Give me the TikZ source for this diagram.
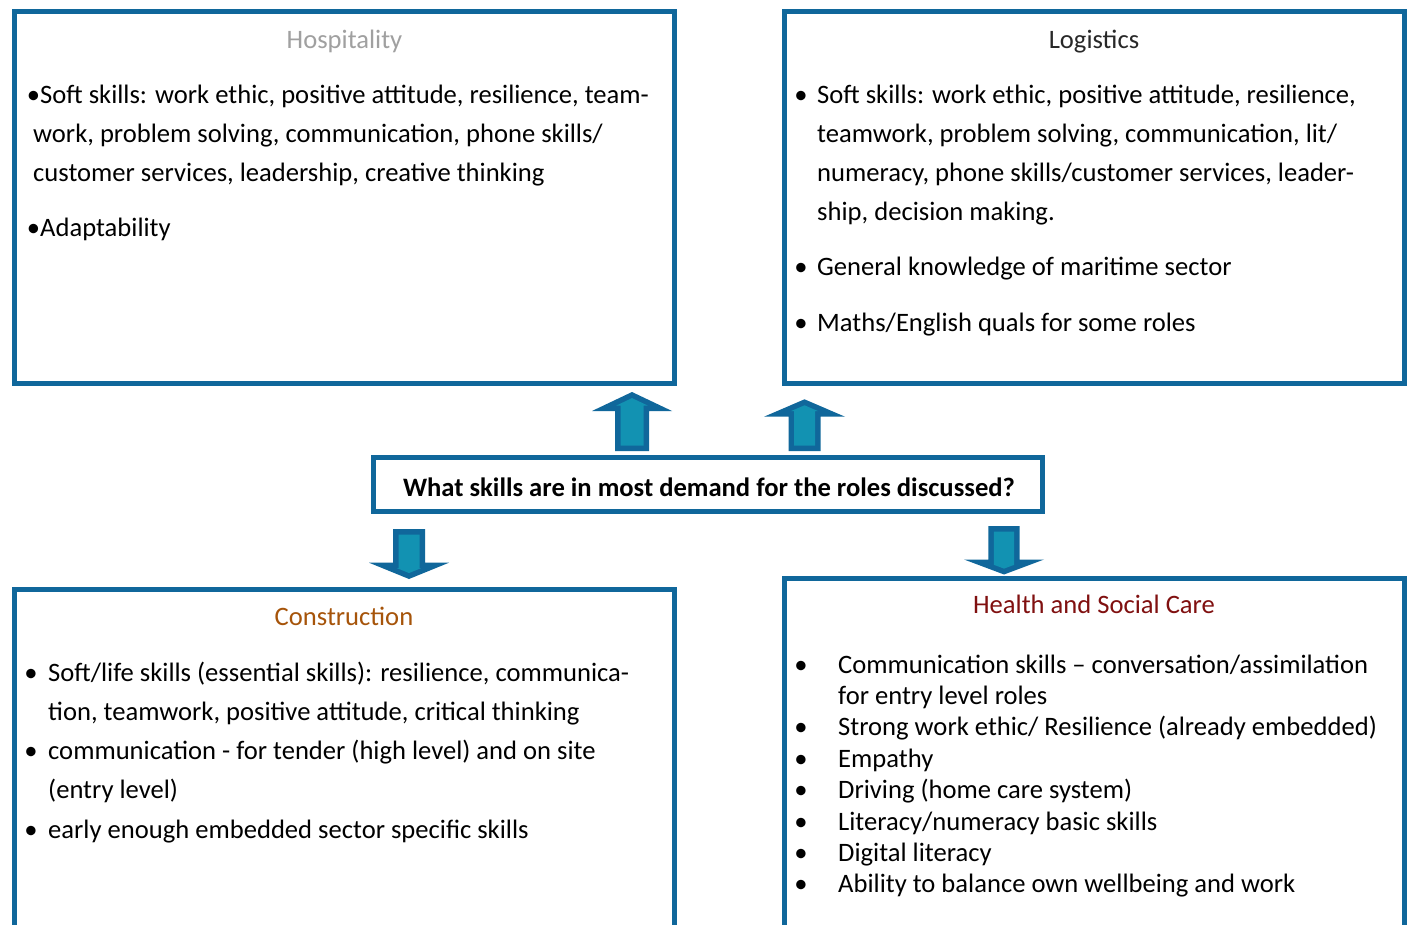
\documentclass[tikz,border=0pt]{standalone}
\usepackage{fontspec}
\setmainfont{Carlito}
\definecolor{boxblue}{RGB}{16,103,155}
\definecolor{arrowfill}{RGB}{18,146,178}
\definecolor{hospgray}{RGB}{160,160,160}
\definecolor{logititle}{RGB}{40,40,40}
\definecolor{constrcol}{RGB}{166,84,10}
\definecolor{healthcol}{RGB}{128,16,16}
\newcommand\bodyfont{\fontsize{26.6}{31}\selectfont}
\tikzset{
  panel/.style={draw=boxblue, line width=5pt, fill=white, inner sep=0pt, outer sep=0pt, anchor=north west},
  ln/.style={anchor=base west, inner sep=0pt, font=\bodyfont},
  bul/.style={anchor=base, inner sep=0pt, font=\bodyfont},
  ttl/.style={anchor=base, inner sep=0pt, font=\bodyfont},
  pics/barrow/.style args={#1/#2/#3/#4}{code={
    \pgfmathsetmacro\arT{5.5}
    \pgfmathsetmacro\arV{\arT*sqrt(#1*#1+#3*#3)/#3}
    \pgfmathsetmacro\arWy{#1-\arT}
    \pgfmathsetmacro\arD{(#1-\arT-\arV)*#3/#1}
    \pgfmathsetmacro\arS{#4-\arT}
    \pgfmathsetmacro\arB{#2-\arT}
    \fill[boxblue] (0,0) -- (-#3,#1) -- (-#4,#1) -- (-#4,#2) -- (#4,#2) -- (#4,#1) -- (#3,#1) -- cycle;
    \fill[arrowfill] (0,\arV) -- (-\arD,\arWy) -- (-\arS,\arWy) -- (-\arS,\arB) -- (\arS,\arB) -- (\arS,\arWy) -- (\arD,\arWy) -- cycle;
  }}
}
\begin{document}
\begin{tikzpicture}[x=1pt,y=-1pt]
\useasboundingbox (0,0) rectangle (1410,925);
\clip (0,0) rectangle (1410,925);
\fill[white] (0,0) rectangle (1410,925);

% panels
\node[panel, minimum width=660, minimum height=372] (hosp) at (14.5,11.5) {};
\node[panel, minimum width=620, minimum height=372] (logi) at (784,11.5) {};
\node[panel, minimum width=669, minimum height=54] (quest) at (373.5,457.5) {};
\node[panel, minimum width=660, minimum height=400] (constr) at (14.5,589) {};
\node[panel, minimum width=620, minimum height=400] (health) at (784,578) {};

% arrows
\pic at (632,392) {barrow={19/59/40/17}};
\pic at (804.5,399.3) {barrow={17.4/51.7/40.5/16}};
\pic[yscale=-1] at (409,579) {barrow={16.3/50/40/16}};
\pic[yscale=-1] at (1004,574.5) {barrow={15/48.5/40/15.6}};

% question
\node[ttl, font=\bodyfont\bfseries] (qtext) at (709,496) {What skills are in most demand for the roles discussed?};

% Hospitality
\node[ttl, text=hospgray] (hostitle) at (344.5,49) {Hospitality};
\node[ln] (h1) at (26.7,103.5) {\textbullet Soft skills: work ethic, positive attitude, resilience, team-};
\node[ln] (h2) at (33,142.7) {work, problem solving, communication, phone skills/};
\node[ln] (h3) at (33,181.9) {customer services, leadership, creative thinking};
\node[ln] (h4) at (26.7,237) {\textbullet Adaptability};

% Logistics
\node[ttl, text=logititle] (logtitle) at (1094,49) {Logistics};
\node[bul] (lb1) at (801,103.5) {\textbullet};
\node[ln] (l1) at (817,103.5) {Soft skills: work ethic, positive attitude, resilience,};
\node[ln] (l2) at (817,142.5) {teamwork, problem solving, communication, lit/};
\node[ln] (l3) at (817,181.5) {numeracy, phone skills/customer services, leader-};
\node[ln] (l4) at (817,220.5) {ship, decision making.};
\node[bul] (lb2) at (801,275.5) {\textbullet};
\node[ln] (l5) at (817,275.5) {General knowledge of maritime sector};
\node[bul] (lb3) at (801,331.5) {\textbullet};
\node[ln] (l6) at (817,331.5) {Maths/English quals for some roles};

% Construction
\node[ttl, text=constrcol] (contitle) at (344,625) {Construction};
\node[bul] (cb1) at (31,681.5) {\textbullet};
\node[ln] (c1) at (48,681.5) {Soft/life skills (essential skills): resilience, communica-};
\node[ln] (c2) at (48,720.5) {tion, teamwork, positive attitude, critical thinking};
\node[bul] (cb2) at (31,759.5) {\textbullet};
\node[ln] (c3) at (48,759.5) {communication - for tender (high level) and on site};
\node[ln] (c4) at (48,798.5) {(entry level)};
\node[bul] (cb3) at (31,838.5) {\textbullet};
\node[ln] (c5) at (48,838.5) {early enough embedded sector specific skills};

% Health and Social Care
\node[ttl, text=healthcol] (heatitle) at (1094,613) {Health and Social Care};
\node[bul] (sb1) at (801,673) {\textbullet};
\node[ln] (s1) at (838,673) {Communication skills -- conversation/assimilation};
\node[ln] (s2) at (838,704.4) {for entry level roles};
\node[bul] (sb2) at (801,735.8) {\textbullet};
\node[ln] (s3) at (838,735.8) {Strong work ethic/ Resilience (already embedded)};
\node[bul] (sb3) at (801,767.2) {\textbullet};
\node[ln] (s4) at (838,767.2) {Empathy};
\node[bul] (sb4) at (801,798.6) {\textbullet};
\node[ln] (s5) at (838,798.6) {Driving (home care system)};
\node[bul] (sb5) at (801,830) {\textbullet};
\node[ln] (s6) at (838,830) {Literacy/numeracy basic skills};
\node[bul] (sb6) at (801,861.4) {\textbullet};
\node[ln] (s7) at (838,861.4) {Digital literacy};
\node[bul] (sb7) at (801,892.8) {\textbullet};
\node[ln] (s8) at (838,892.8) {Ability to balance own wellbeing and work};
\end{tikzpicture}
\end{document}
